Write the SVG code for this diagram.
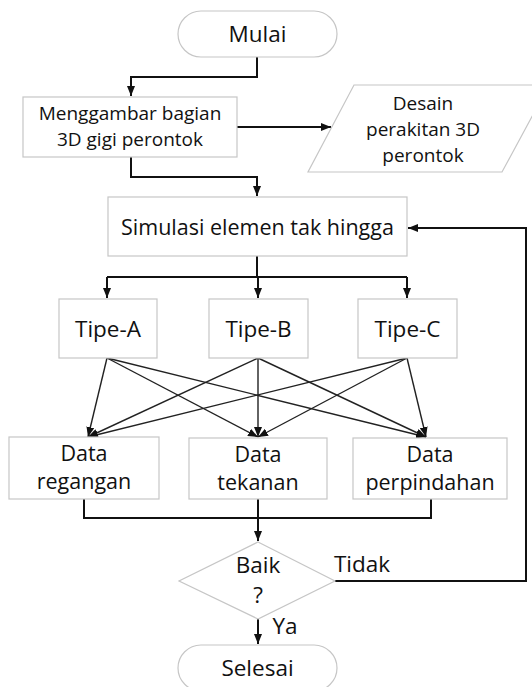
<svg xmlns="http://www.w3.org/2000/svg" width="532" height="687" viewBox="0 0 532 687">
<style>
.box{fill:#fff;stroke:#c6c6c6;stroke-width:1.2}
.t{font-family:"Open Sans","Liberation Sans",sans-serif;font-size:21.5px;fill:#111;text-anchor:middle}
.s{font-size:19px}
.b{font-size:22.5px}
.ln{fill:none;stroke:#111;stroke-width:2}
.x{fill:none;stroke:#222;stroke-width:1.4}
</style>
<defs>
<marker id="ah" markerUnits="userSpaceOnUse" markerWidth="10" markerHeight="8" refX="10" refY="4" orient="auto">
<path d="M0,0 L10,4 L0,8 z" fill="#111"/>
</marker>
</defs>
<rect width="532" height="687" fill="#fff"/>
<g id="connectors">
<path class="ln" d="M257,57 V77 H131 V96" marker-end="url(#ah)"/>
<path class="ln" d="M237,127 H331" marker-end="url(#ah)"/>
<path class="ln" d="M131,157 V177 H257 V196" marker-end="url(#ah)"/>
<path class="ln" d="M257,256 V277"/>
<path class="ln" d="M107,277 H407"/>
<path class="ln" d="M107,277 V298" marker-end="url(#ah)"/>
<path class="ln" d="M258,277 V298" marker-end="url(#ah)"/>
<path class="ln" d="M407,277 V298" marker-end="url(#ah)"/>
<path class="x" d="M107,358 L88,437" marker-end="url(#ah)"/>
<path class="x" d="M107,358 L258,437" marker-end="url(#ah)"/>
<path class="x" d="M107,358 L426,437" marker-end="url(#ah)"/>
<path class="x" d="M258,358 L88,437" marker-end="url(#ah)"/>
<path class="x" d="M258,358 L258,437" marker-end="url(#ah)"/>
<path class="x" d="M258,358 L426,437" marker-end="url(#ah)"/>
<path class="x" d="M407,358 L88,437" marker-end="url(#ah)"/>
<path class="x" d="M407,358 L258,437" marker-end="url(#ah)"/>
<path class="x" d="M407,358 L426,437" marker-end="url(#ah)"/>
<path class="ln" d="M84,499 V518 H431 V499"/>
<path class="ln" d="M258,499 V541" marker-end="url(#ah)"/>
<path class="ln" d="M335,581 H526 V228 H408" marker-end="url(#ah)"/>
<path class="ln" d="M258,619 V644" marker-end="url(#ah)"/>
<text class="t b" x="362" y="572">Tidak</text>
<text class="t b" x="285" y="634">Ya</text>
</g>
<g id="mulai">
<rect class="box" x="178" y="11" width="159" height="46" rx="23"/>
<text class="t b" x="257.5" y="42">Mulai</text>
</g>
<g id="menggambar">
<rect class="box" x="23" y="97" width="214" height="60"/>
<text class="t s" x="130" y="120">Menggambar bagian</text>
<text class="t s" x="130" y="146">3D gigi perontok</text>
</g>
<g id="desain">
<polygon class="box" points="354,85 549,85 502,172 308,172"/>
<text class="t s" x="423" y="110">Desain</text>
<text class="t s" x="423" y="136">perakitan 3D</text>
<text class="t s" x="423" y="162">perontok</text>
</g>
<g id="simulasi">
<rect class="box" x="108" y="197" width="299" height="59"/>
<text class="t" x="257.5" y="234.5">Simulasi elemen tak hingga</text>
</g>
<g id="tipe-a">
<rect class="box" x="59" y="299" width="98" height="59"/>
<text class="t b" x="108" y="336.5">Tipe-A</text>
</g>
<g id="tipe-b">
<rect class="box" x="209" y="299" width="99" height="59"/>
<text class="t b" x="258.5" y="336.5">Tipe-B</text>
</g>
<g id="tipe-c">
<rect class="box" x="358" y="299" width="99" height="59"/>
<text class="t b" x="407.5" y="336.5">Tipe-C</text>
</g>
<g id="data-regangan">
<rect class="box" x="9" y="437" width="150" height="62"/>
<text class="t" x="84" y="461">Data</text>
<text class="t" x="84" y="489">regangan</text>
</g>
<g id="data-tekanan">
<rect class="box" x="189" y="438" width="138" height="61"/>
<text class="t" x="258" y="462">Data</text>
<text class="t" x="258" y="490">tekanan</text>
</g>
<g id="data-perpindahan">
<rect class="box" x="353" y="438" width="154" height="61"/>
<text class="t" x="430" y="462">Data</text>
<text class="t" x="430" y="490">perpindahan</text>
</g>
<g id="baik">
<polygon class="box" points="258,542 335,581 258,619 179,581"/>
<text class="t b" x="258" y="573">Baik</text>
<text class="t b" x="258" y="603">?</text>
</g>
<g id="selesai">
<rect class="box" x="178" y="645" width="159" height="46" rx="23"/>
<text class="t b" x="257.5" y="676">Selesai</text>
</g>
</svg>
